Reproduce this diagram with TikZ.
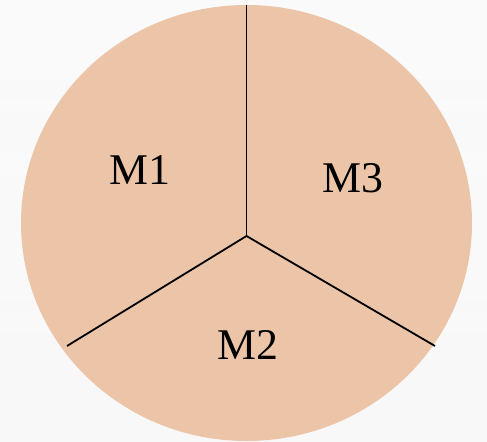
\documentclass[tikz,border=0pt]{standalone}
\usepackage{fontspec}
\setmainfont{Liberation Serif}
\definecolor{peach}{RGB}{236,197,169}
\definecolor{bggray}{RGB}{241,241,241}
\begin{document}
\begin{tikzpicture}[x=1bp,y=-1bp,
  divider/.style={draw=black,line width=1.8bp},
  label/.style={anchor=base,inner sep=0pt,font=\fontsize{44}{48}\selectfont}]
\useasboundingbox (0,0) rectangle (487,442);
\shade[left color=white,right color=bggray,shading angle=0] (0,0) rectangle (487,442);
\shade[top color=bggray!60,bottom color=white,opacity=0.5] (0,0) rectangle (487,442);
\fill[peach] (246.5,223) ellipse [x radius=225.5, y radius=218];
\coordinate (c) at (246.5,236);
\coordinate (top) at (246.5,5);
\coordinate (left) at (67,346);
\coordinate (right) at (435,346);
\draw[divider] (c) -- (top);
\draw[divider] (c) -- (left);
\draw[divider] (c) -- (right);
\node[label] (m1) at (140,185) {M1};
\node[label] (m3) at (353,192.5) {M3};
\node[label] (m2) at (247.5,359) {M2};
\end{tikzpicture}
\end{document}
